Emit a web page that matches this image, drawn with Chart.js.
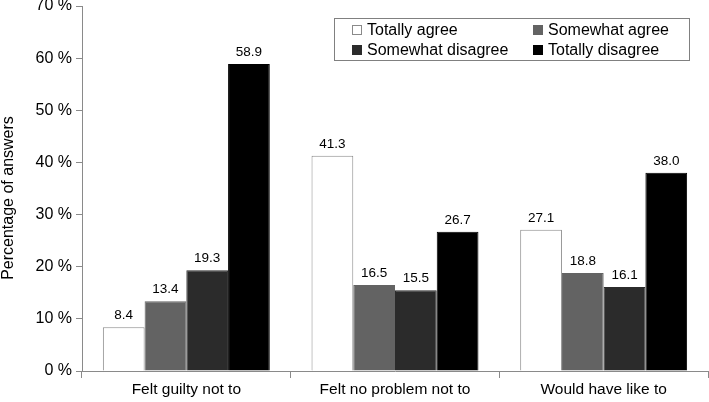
<!DOCTYPE html>
<html>
<head>
<meta charset="utf-8">
<script src="https://cdn.jsdelivr.net/npm/chart.js@4"></script>
<style>
  html, body { margin: 0; padding: 0; background: #fff; }
  #wrap { width: 709px; height: 402px; position: relative; }
</style>
</head>
<body>
<div id="wrap"><canvas id="c"></canvas></div>
<script>
const categories = ["Felt guilty not to", "Felt no problem not to", "Would have like to"];
const seriesNames = ["Totally agree", "Somewhat agree", "Somewhat disagree", "Totally disagree"];
const totallyAgree = [8.4, 41.3, 27.1];
const somewhatAgree = [13.4, 16.5, 18.8];
const somewhatDisagree = [19.3, 15.5, 16.1];
const totallyDisagree = [58.9, 26.7, 38.0];
const yTicks = [0, 10, 20, 30, 40, 50, 60, 70];
const yTitle = "Percentage of answers";

const fills = ["#ffffff", "#636363", "#2b2b2b", "#000000"];
const borders = ["#8a8a8a", "#636363", "#2b2b2b", "#000000"];
const values = [totallyAgree, somewhatAgree, somewhatDisagree, totallyDisagree];

Chart.defaults.font.family = "'Liberation Sans', Arial, sans-serif";
Chart.defaults.color = "#000";

// value labels above bars
const barLabels = {
  id: "barLabels",
  afterDatasetsDraw(chart) {
    const ctx = chart.ctx;
    ctx.save();
    ctx.font = "13.5px 'Liberation Sans', Arial, sans-serif";
    ctx.fillStyle = "#000";
    ctx.textAlign = "center";
    ctx.textBaseline = "bottom";
    chart.data.datasets.forEach((ds, i) => {
      chart.getDatasetMeta(i).data.forEach((bar, j) => {
        ctx.fillText(ds.data[j].toFixed(1), bar.x, bar.y - 5);
      });
    });
    ctx.restore();
  }
};

// boxed 2x2 legend + y title (sits a bit lower than the area centre)
const boxLegend = {
  id: "boxLegend",
  afterDraw(chart) {
    const ctx = chart.ctx;
    const x0 = 334, y0 = 18, w = 355, h = 42;
    ctx.save();
    ctx.strokeStyle = "#808080";
    ctx.lineWidth = 1;
    ctx.strokeRect(x0 + 0.5, y0 + 0.5, w, h);
    ctx.font = "16px 'Liberation Sans', Arial, sans-serif";
    ctx.textBaseline = "middle";
    chart.data.datasets.forEach((ds, i) => {
      const col = i % 2, row = Math.floor(i / 2);
      const sx = col === 0 ? 352 : 533;
      const sy = row === 0 ? 30 : 50;
      ctx.fillStyle = ds.backgroundColor;
      ctx.fillRect(sx, sy - 5, 10, 10);
      ctx.strokeStyle = ds.borderColor;
      ctx.strokeRect(sx + 0.5, sy - 4.5, 9, 9);
      ctx.fillStyle = "#000";
      ctx.textAlign = "left";
      ctx.fillText(ds.label, sx + 15, sy + 1);
    });
    ctx.translate(9, 198);
    ctx.rotate(-Math.PI / 2);
    ctx.textAlign = "center";
    ctx.fillText(yTitle, 0, 0);
    ctx.restore();
  }
};

new Chart(document.getElementById("c"), {
  type: "bar",
  data: {
    labels: categories,
    datasets: seriesNames.map((name, i) => ({
      label: name,
      data: values[i],
      backgroundColor: fills[i],
      borderColor: borders[i],
      borderWidth: 1,
      categoryPercentage: 0.8,
      barPercentage: 1.0
    }))
  },
  options: {
    responsive: true,
    maintainAspectRatio: false,
    animation: false,
    layout: { padding: { top: 6, right: 1, left: 0, bottom: 0 } },
    plugins: { legend: { display: false }, tooltip: { enabled: false } },
    scales: {
      x: {
        grid: { display: true, offset: true, drawOnChartArea: false, color: "#8a8a8a", tickLength: 7 },
        border: { color: "#8a8a8a" },
        ticks: { font: { size: 15.5 }, padding: 2 },
        afterFit(s) { s.height = 31; s.paddingLeft = 0; s.paddingRight = 0; }
      },
      y: {
        min: 0,
        max: 70,
        afterBuildTicks(s) { s.ticks = yTicks.map(v => ({ value: v })); },
        grid: { display: true, drawOnChartArea: false, color: "#8a8a8a", tickLength: 6 },
        border: { color: "#8a8a8a" },
        ticks: { font: { size: 16 }, padding: 4, callback: v => v + " %" },
        afterFit(s) { s.width = 82; s.paddingTop = 0; s.paddingBottom = 0; }
      }
    }
  },
  plugins: [barLabels, boxLegend]
});
</script>
</body>
</html>
